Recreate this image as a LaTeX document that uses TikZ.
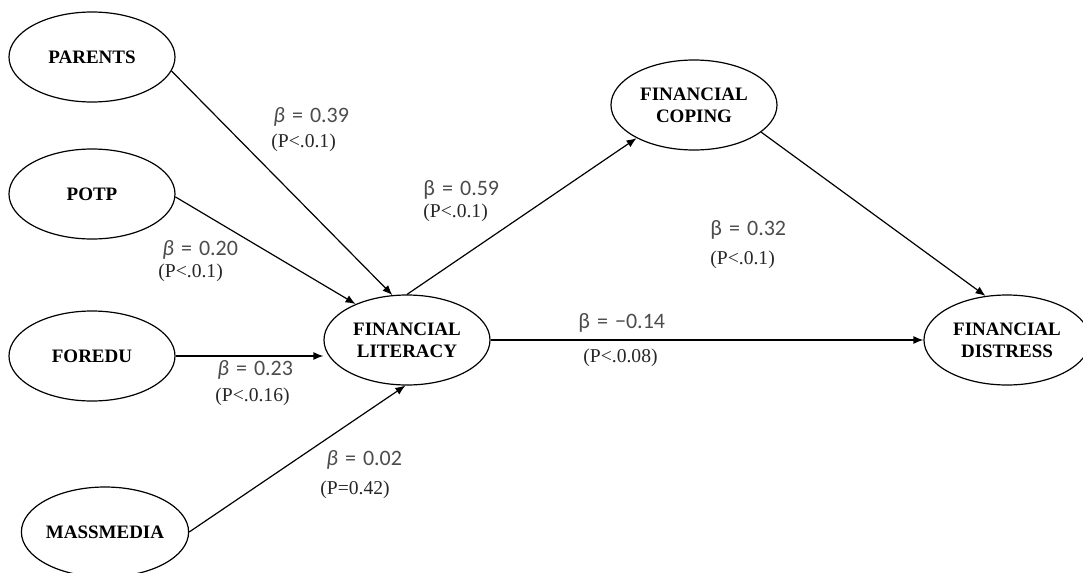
\documentclass[tikz,border=0pt]{standalone}
\usepackage{fontspec}
\setmainfont{Liberation Serif}
\newfontfamily\coeffont{Carlito}
\usetikzlibrary{shapes.geometric, arrows.meta}

\newcommand{\itbeta}{\textit{β}}
\newcommand{\eqsp}{\hspace{0.32em}=\hspace{0.32em}}

\begin{document}
\begin{tikzpicture}[x=0.5pt, y=-0.5pt,
    construct/.style={ellipse, draw, line width=0.6pt, minimum width=83pt,
        minimum height=45pt, inner sep=0pt, align=center,
        font=\bfseries\fontsize{9.5}{11}\selectfont},
    coef/.style={anchor=west, inner sep=0pt, text=black!70,
        font=\coeffont\fontsize{11}{12}\selectfont},
    pval/.style={anchor=west, inner sep=0pt, text=black!85,
        font=\fontsize{9.8}{11}\selectfont},
    path/.style={->, >={Latex[length=5pt, width=4pt]}, line width=0.6pt}]
\useasboundingbox (0,0) rectangle (1083,573);

\node[construct] (parents) at (92,57) {PARENTS};
\node[construct] (potp) at (92,194) {POTP};
\node[construct] (foredu) at (92,356) {FOREDU};
\node[construct] (massmedia) at (105,532) {MASSMEDIA};
\node[construct] (literacy) at (407,340) {FINANCIAL\\LITERACY};
\node[construct] (coping) at (694,105) {FINANCIAL\\COPING};
\node[construct] (distress) at (1007,340) {FINANCIAL\\DISTRESS};

\draw[path] (parents.-10) -- (literacy.108);
\draw[path] (potp.-2) -- (literacy.145);
\draw[path] (foredu.east) -- (literacy.west |- foredu.east);
\draw[path] (massmedia.east) -- (literacy.-92);
\draw[path] (literacy.north) -- (coping.210);
\draw[path] (literacy.east) -- (distress.west);
\draw[path] (coping.-22) -- (distress.116);

\node[coef] (b-parents) at (273,117) {\itbeta\eqsp 0.39};
\node[pval] (p-parents) at (271,143) {(P<.0.1)};
\node[coef] (b-potp) at (162,250) {\itbeta\eqsp 0.20};
\node[pval] (p-potp) at (158,273) {(P<.0.1)};
\node[coef] (b-foredu) at (217,370) {\itbeta\eqsp 0.23};
\node[pval] (p-foredu) at (215,397) {(P<.0.16)};
\node[coef] (b-massmedia) at (326,460) {\itbeta\eqsp 0.02};
\node[pval] (p-massmedia) at (320,490) {(P=0.42)};
\node[coef] (b-coping) at (423,190) {β\eqsp 0.59};
\node[pval] (p-coping) at (423,213) {(P<.0.1)};
\node[coef] (b-distress) at (710,230) {β\eqsp 0.32};
\node[pval] (p-distress) at (710,260) {(P<.0.1)};
\node[coef] (b-direct) at (578,323) {β\eqsp −0.14};
\node[pval] (p-direct) at (583,358) {(P<.0.08)};

\end{tikzpicture}
\end{document}
